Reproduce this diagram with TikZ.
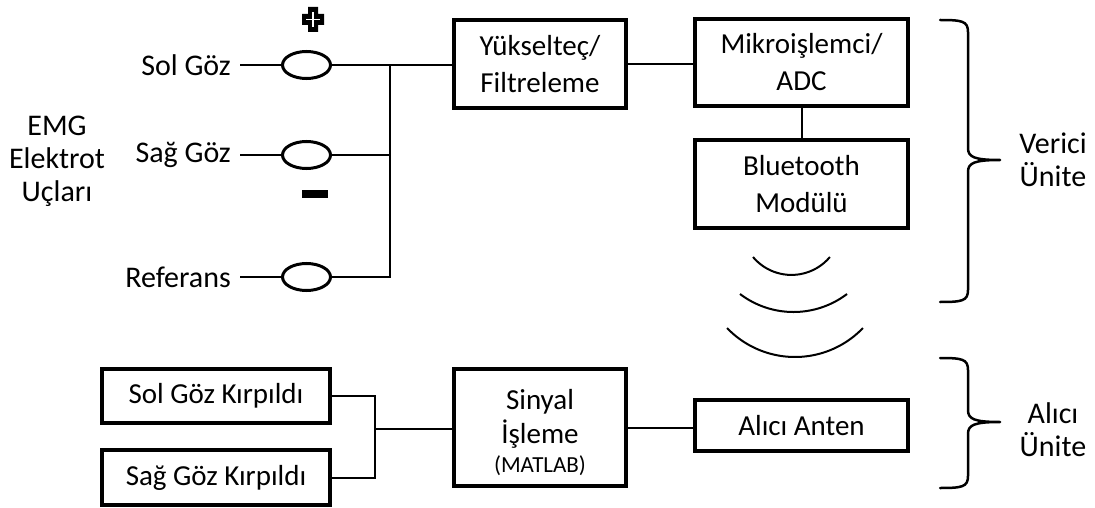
\documentclass[tikz,border=0pt]{standalone}
\usepackage{fontspec}
\setmainfont{Carlito}
\usetikzlibrary{shapes.geometric}
\newcommand\mainsz{\fontsize{29}{37}\selectfont}
\newcommand\labsz{\fontsize{30}{33}\selectfont}
\newcommand\smallsz{\fontsize{23}{28}\selectfont}
\begin{document}
\begin{tikzpicture}[x=1pt,y=-1pt,
  box/.style={draw, line width=4pt, inner sep=0pt, align=center, font=\mainsz},
  wire/.style={line width=2pt},
  electrode/.style={draw, ellipse, line width=3pt, minimum width=48pt, minimum height=27pt, inner sep=0pt},
  lbl/.style={font=\labsz, inner ysep=0pt, inner xsep=9pt, anchor=east},
  txt/.style={font=\labsz, align=center, inner sep=0pt},
  bracestyle/.style={line width=2.5pt, line cap=round, line join=round},
  wave/.style={line width=2pt}]
\useasboundingbox (0,0) rectangle (1095,508);
% left labels
\node[lbl] (lsol) at (240,65) {Sol Göz};
\node[lbl] (lsag) at (240,155) {Sağ Göz};
\node[lbl] (lref) at (240,277) {Referans};
\node[txt] (emg) at (57,161) {EMG\\Elektrot\\Uçları};
% electrodes
\node[electrode] (e1) at (306.5,65) {};
\node[electrode] (e2) at (306.5,155) {};
\node[electrode] (e3) at (306.5,277) {};
% polarity marks
\fill (308,7) -- (318,7) -- (318,14) -- (324,14) -- (324,25) -- (318,25) -- (318,32)
  -- (308,32) -- (308,25) -- (302,25) -- (302,14) -- (308,14) -- cycle;
\draw[white, line width=1.6pt] (313,12) -- (313,27) (306,19.5) -- (320,19.5);
\fill (302,190) rectangle (328,197.5);
% boxes
\node[box, minimum width=172pt, minimum height=88pt] (amp) at (540,64) {Yükselteç/\\Filtreleme};
\node[box, minimum width=213pt, minimum height=87pt] (mcu) at (801.5,62.5) {Mikroişlemci/\\ADC};
\node[box, minimum width=213pt, minimum height=88pt] (bt) at (801.5,184) {Bluetooth\\Modülü};
\node[box, minimum width=213pt, minimum height=51pt] (ant) at (801.5,425.5) {Alıcı Anten};
\node[box, minimum width=172pt, minimum height=117pt] (dsp) at (540,427.5) {\rule{0pt}{31pt}Sinyal\\[-3pt]İşleme\\[-8pt]{\smallsz (MATLAB)}};
\node[box, minimum width=228pt, minimum height=54pt] (sol) at (216,396) {Sol Göz Kırpıldı};
\node[box, minimum width=228pt, minimum height=55pt] (sag) at (216,477.5) {Sağ Göz Kırpıldı};
% wiring
\coordinate (bus1) at (390,65);
\coordinate (bus3) at (390,277);
\coordinate (jk) at (375,429);
\draw[wire] (lsol.east) -- (e1.west);
\draw[wire] (lsag.east) -- (e2.west);
\draw[wire] (lref.east) -- (e3.west);
\draw[wire] (e1.east) -- (e1.east -| amp.west);
\draw[wire] (e2.east) -- (e2.east -| bus1);
\draw[wire] (e3.east) -- (bus3) -- (bus1);
\draw[wire] (amp.east) -- (amp.east -| mcu.west);
\draw[wire] (mcu.south) -- (bt.north);
\draw[wire] (dsp.east) -- (dsp.east -| ant.west);
\draw[wire] (sol.east) -| (jk) |- (sag.east);
\draw[wire] (jk) -- (jk -| dsp.west);
% wireless waves
\draw[wave] (753,257) arc[start angle=140, end angle=40, radius=50.2];
\draw[wave] (740,294) arc[start angle=127.2, end angle=52.8, radius=88.5];
\draw[wave] (727,328) arc[start angle=136.2, end angle=43.8, radius=94.2];
% braces
\draw[bracestyle] (940,20) .. controls (962,20) and (968,21) .. (968,32)
  -- (968,148) .. controls (968,157) and (974,160) .. (1000,160)
  .. controls (974,160) and (968,163) .. (968,172)
  -- (968,290) .. controls (968,301) and (962,302) .. (940,302);
\draw[bracestyle] (940,358) .. controls (962,358) and (968,359) .. (968,370)
  -- (968,410) .. controls (968,419) and (974,422) .. (1000,422)
  .. controls (974,422) and (968,425) .. (968,434)
  -- (968,476) .. controls (968,487) and (962,488) .. (940,488);
\node[txt] (verici) at (1053,160) {Verici\\Ünite};
\node[txt] (alici) at (1053,430) {Alıcı\\Ünite};
\end{tikzpicture}
\end{document}
